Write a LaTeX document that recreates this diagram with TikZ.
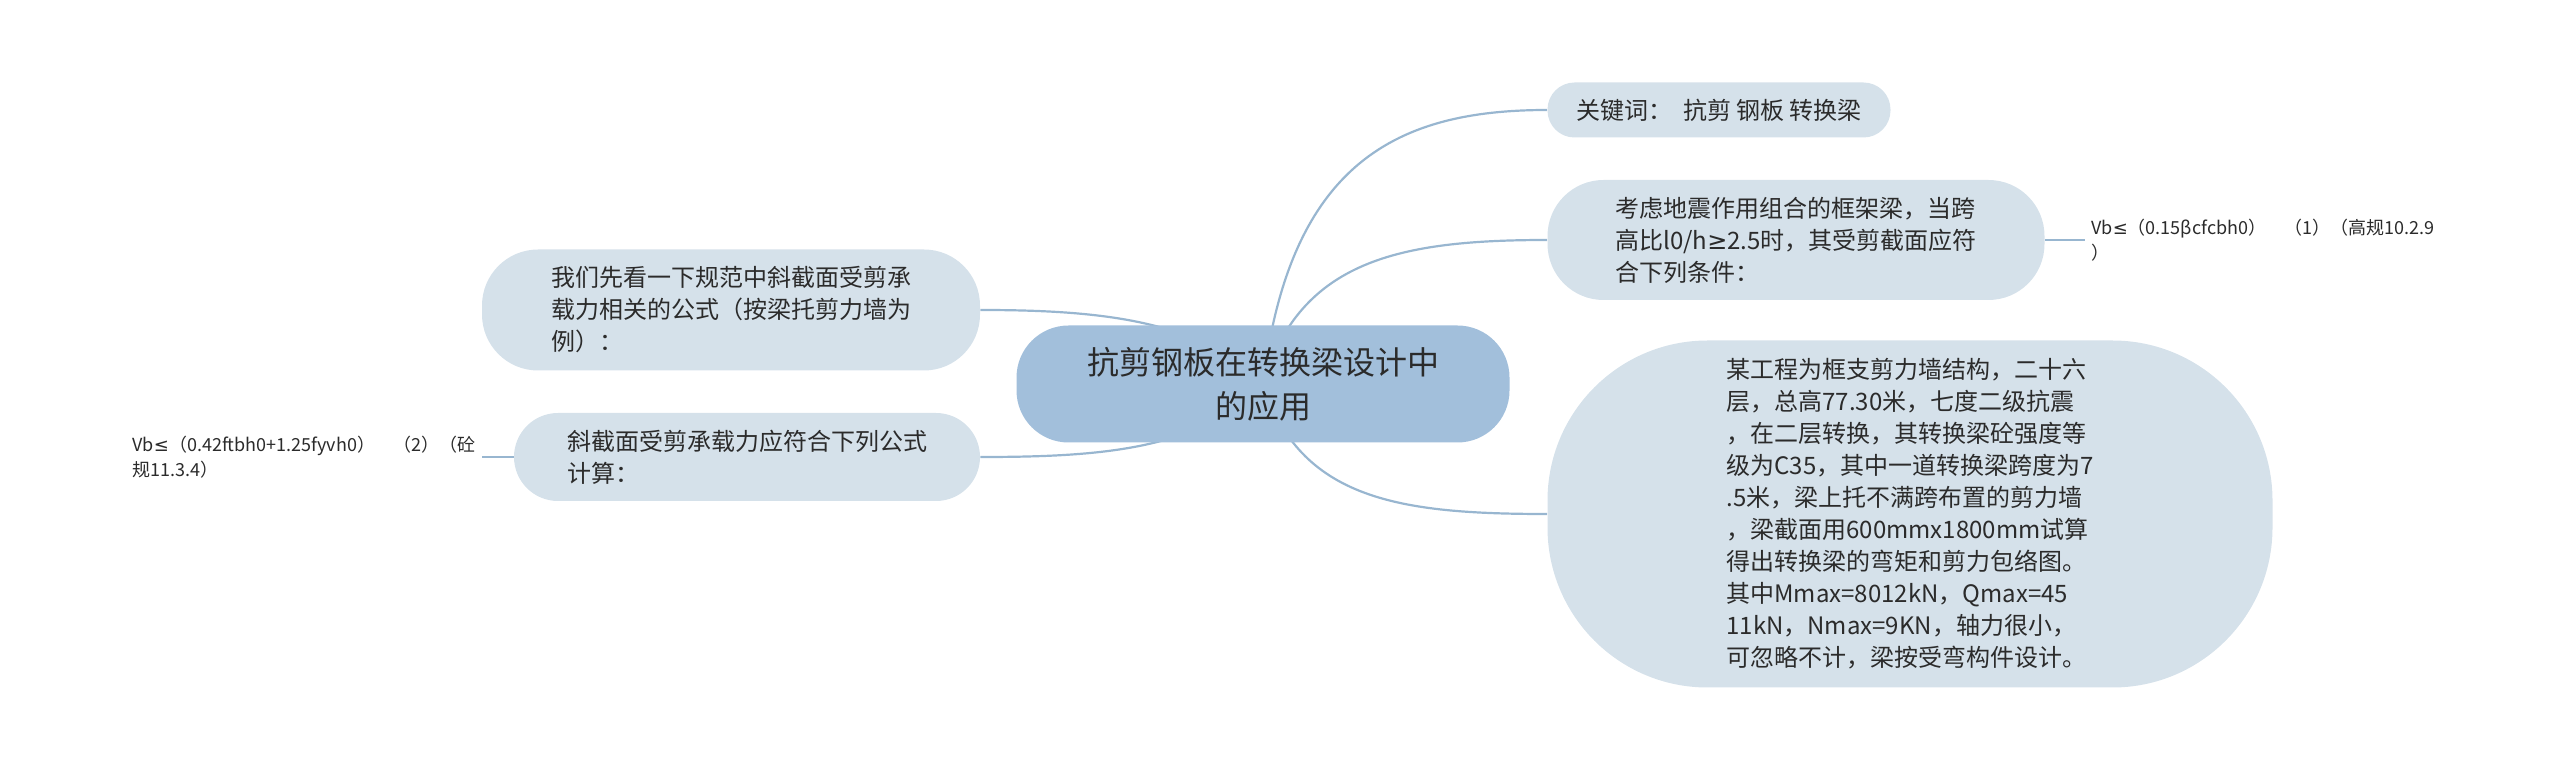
\documentclass[tikz,border=0pt]{standalone}
\usepackage{fontspec}
\newfontfamily\cjk{Noto Sans CJK SC}
\newfontfamily\sym{DejaVu Sans}
\usetikzlibrary{backgrounds,positioning}
\definecolor{rootblue}{HTML}{A2BFDB}
\definecolor{subgray}{HTML}{D5E1EA}
\definecolor{linkblue}{HTML}{98B6D0}
\definecolor{txt}{HTML}{2B2B2B}
\tikzset{
	topic/.style={fill=rootblue,rounded corners=26pt,minimum width=246.5pt,minimum height=58.5pt,align=center,text=txt,font=\cjk\fontsize{16pt}{22pt}\selectfont},
	subtopic/.style={fill=subgray,align=left,text=txt,font=\cjk\fontsize{12pt}{16pt}\selectfont},
	leaf/.style={align=left,inner sep=3pt,text=txt,font=\cjk\fontsize{9pt}{12.5pt}\selectfont},
	link/.style={color=linkblue,line width=1.1pt}
}
\begin{document}
\begin{tikzpicture}[x=0.5pt,y=-0.5pt]
		\useasboundingbox (0,0) rectangle (2560,769);
		%%%root
		\node[topic] (root) at (1263,384) {抗剪钢板在转换梁设计中\\的应用};
		%%%right
		\node[subtopic,minimum width=171.5pt,minimum height=27.5pt,rounded corners=13.5pt] (kw) at (1719,110) {关键词：\ \ 抗剪 钢板 转换梁};
		\node[subtopic,minimum width=248.5pt,minimum height=60pt,rounded corners=28pt] (cond) at (1796,240) {考虑地震作用组合的框架梁，当跨\\高比l0/h{\sym ≥}2.5时，其受剪截面应符\\合下列条件：};
		\node[leaf,right=20pt of cond] (f1) {Vb{\sym ≤}（0.15βcfcbh0）\quad（1）（高规10.2.9\\）};
		\node[subtopic,minimum width=362.5pt,minimum height=173.5pt,rounded corners=80pt] (proj) at (1910,514) {某工程为框支剪力墙结构，二十六\\层，总高77.30米，七度二级抗震\\，在二层转换，其转换梁砼强度等\\级为C35，其中一道转换梁跨度为7\\.5米，梁上托不满跨布置的剪力墙\\，梁截面用600mmx1800mm试算\\得出转换梁的弯矩和剪力包络图。\\其中Mmax=8012kN，Qmax=45\\11kN，Nmax=9KN，轴力很小，\\可忽略不计，梁按受弯构件设计。};
		%%%left
		\node[subtopic,minimum width=249pt,minimum height=60.5pt,rounded corners=28pt] (view) at (731,310) {我们先看一下规范中斜截面受剪承\\载力相关的公式（按梁托剪力墙为\\例）：};
		\node[subtopic,minimum width=233pt,minimum height=44pt,rounded corners=22pt] (calc) at (747,457) {斜截面受剪承载力应符合下列公式\\计算：};
		\node[leaf,left=16pt of calc] (f2) {Vb{\sym ≤}（0.42ftbh0+1.25fyvh0）\quad（2）（砼\\规11.3.4）};
		\begin{scope}[on background layer]
			\draw[link] (root.center) .. controls (1290,160) and (1400,110) .. (kw.west);
			\draw[link] (root.center) .. controls (1300,260) and (1400,240) .. (cond.west);
			\draw[link] (root.center) .. controls (1300,500) and (1400,514) .. (proj.west);
			\draw[link] (root.center) .. controls (1200,320) and (1100,310) .. (view.east);
			\draw[link] (root.center) .. controls (1200,450) and (1100,457) .. (calc.east);
			\draw[link] (cond) -- (f1);
			\draw[link] (calc) -- (f2);
		\end{scope}
	\end{tikzpicture}
\end{document}
